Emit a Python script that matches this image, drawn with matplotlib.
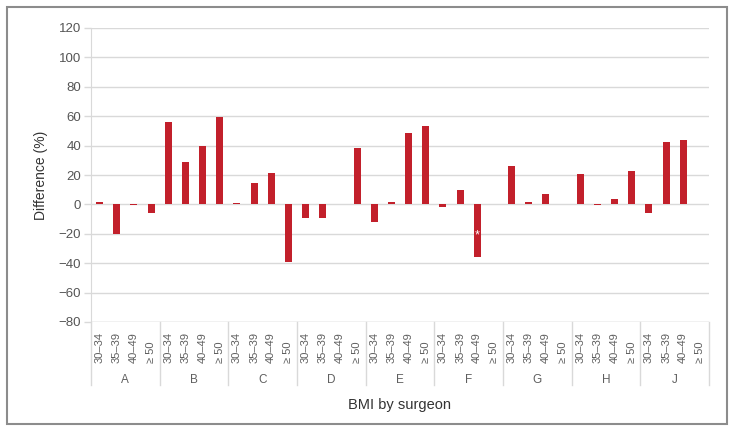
import matplotlib
matplotlib.use("Agg")
import matplotlib.pyplot as plt
from matplotlib.patches import Rectangle
from matplotlib.lines import Line2D
import numpy as np

plt.rcParams['font.family'] = ['Liberation Sans', 'DejaVu Sans']

surgeons = ["A", "B", "C", "D", "E", "F", "G", "H", "J"]
bmi_classes = ["30\u201334", "35\u201339", "40\u201349", "\u2265 50"]
differences = {
    "A": [1.5, -20, -0.5, -6],
    "B": [56, 29, 39.5, 59.5],
    "C": [1, 14.5, 21.5, -39],
    "D": [-9.5, -9.5, 0, 38.5],
    "E": [-12, 1.5, 48.5, 53.5],
    "F": [-2, 9.5, -36, 0],
    "G": [26, 1.5, 7, 0],
    "H": [20.5, -0.5, 3.5, 22.5],
    "J": [-6, 42.5, 44, 0],
}
significant = [("F", "40\u201349")]
yticks = [-80, -60, -40, -20, 0, 20, 40, 60, 80, 100, 120]

W, H = 736, 433
fig = plt.figure(figsize=(W / 100, H / 100), dpi=100)

# outer frame
fig.patches.append(Rectangle((7 / W, 1 - 424 / H), 720 / W, 417 / H,
                             transform=fig.transFigure, fill=False,
                             edgecolor="#8c8c8c", linewidth=1.5))

left, right, top, bottom = 91, 709, 28, 322
ax = fig.add_axes([left / W, 1 - bottom / H, (right - left) / W, (bottom - top) / H])

red = "#c2202b"
grid_c = "#d9d9d9"
text_c = "#555555"

vals = [v for s in surgeons for v in differences[s]]
xs = np.arange(len(vals))
ax.bar(xs, vals, width=0.41, color=red, zorder=3)

ax.set_xlim(-0.5, len(vals) - 0.5)
ax.set_ylim(-80, 120)
ax.set_yticks(yticks)
ax.set_yticklabels([f"{t}".replace("-", "\u2212") for t in yticks], color=text_c, fontsize=9.5)
ax.yaxis.grid(True, color=grid_c, linewidth=1, zorder=0)
ax.set_xticks([])
ax.tick_params(axis="y", length=5, color=grid_c, width=1, pad=2)
for sp in ["top", "right", "bottom"]:
    ax.spines[sp].set_visible(False)
ax.spines["left"].set_color(grid_c)
ax.spines["left"].set_bounds(-80, 120)

# bottom line
ax.axhline(-80, color=grid_c, linewidth=1, zorder=0)

# asterisk
for s, b in significant:
    i = surgeons.index(s) * 4 + bmi_classes.index(b)
    ax.text(xs[i], -21, "*", color="white", ha="center", va="center", fontsize=9, zorder=4)

trans = ax.get_xaxis_transform()
px = 1.0 / (bottom - top)
# bar labels
for gi, s in enumerate(surgeons):
    for bi, b in enumerate(bmi_classes):
        i = gi * 4 + bi
        ax.text(xs[i], -(363 - bottom) * px, b, rotation=90, ha="center", va="bottom",
                fontsize=8, color="#5f5f5f", transform=trans, clip_on=False)
    ax.text(gi * 4 + 1.5, -(380 - bottom) * px, s, ha="center", va="center",
            fontsize=8.5, color="#5f5f5f", transform=trans, clip_on=False)

# group separators
for k in range(len(surgeons) + 1):
    xpos = k * 4 - 0.5
    ax.add_line(Line2D([xpos, xpos], [0, -(385 - bottom) * px], color=grid_c,
                       linewidth=1, transform=trans, clip_on=False))

ax.set_ylabel("Difference (%)", fontsize=10, color="#333333", labelpad=8)
ax.text(0.5, -(405 - bottom) * px, "BMI by surgeon", transform=ax.transAxes,
        ha="center", va="center", fontsize=10.5, color="#333333")

fig.savefig("out.png", dpi=100)
